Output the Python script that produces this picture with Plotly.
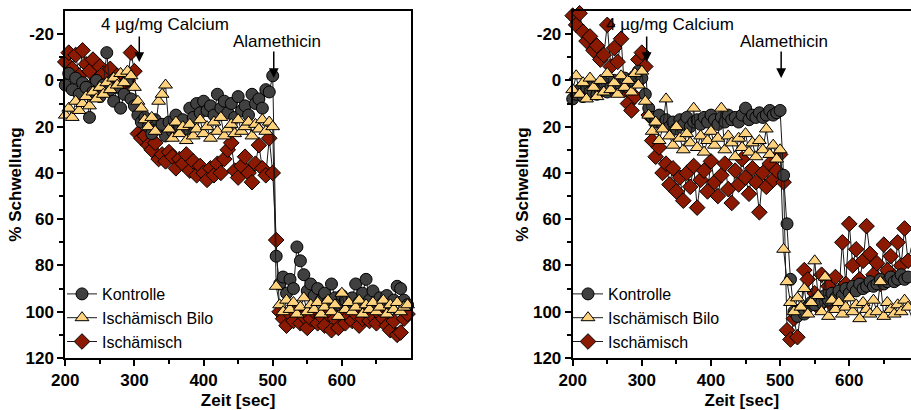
import plotly.graph_objects as go

# Measurement times (seconds), shared by both panels
time_s = [200 + 5 * i for i in range(100)]

# Panel A: swelling (%) per group
kontrolle_a = [2, -3, 4, -1, 6, 1, 3, 16, 5, 0, 7, 2, -12, 4, 9, 3, 12, 6, 0, 8, 11,
               15,
               18, 16, 20, 23, 17, 21, 19, 24, 18, 22,
               15, 20, 17, 21, 12, 16, 10, 14, 9, 13,
               11, 15, 6, 12, 9, 14, 10, 16, 7, 13,
               11, 15, 6, 10, 8, 12, 4, 5, -2,
               76,
               88, 85, 92, 86, 90, 72, 78, 84, 91, 88,
               93, 90, 95, 92, 96, 88, 94, 97, 93, 95,
               98, 94, 88, 96, 92, 86, 95, 91, 97, 94,
               96, 93, 98, 95, 89, 90, 95, 97]
bilo_a = [15, 12, 16, 9, 13, 10, 7, 11, 5, 8, 3, 6, 1, 4, -1, 2, -3, 1, -4, -2, 3,
          9,
          12, 17, 20, 16, 22, 9, 6, 2, 21, 25,
          18, 23, 20, 26, 19, 24, 21, 17, 23, 20,
          25, 18, 22, 16, 24, 21, 19, 23, 17, 22,
          20, 18, 24, 19, 21, 17, 22, 18, 20,
          89,
          97, 100, 95, 99, 96, 101, 98, 94, 100, 97,
          99, 96, 101, 98, 95, 100, 97, 102, 92, 99,
          96, 100, 98, 95, 101, 97, 99, 96, 100, 98,
          95, 101, 97, 99, 96, 100, 98, 97]
isch_a = [-8, -12, -5, -11, -2, -13, -7, -4, -9, 0, -6, -3, 2, -5, 1, -2, 3, -1, 0, -12, -4,
          23,
          25, 24, 28, 30, 27, 34, 32, 35, 31, 33,
          38, 34, 36, 32, 39, 35, 41, 37, 40, 43,
          38, 41, 36, 40, 34, 30, 27, 39, 42, 37,
          33, 40, 44, 36, 28, 38, 41, 25, 40,
          69,
          100, 103, 106, 101, 104, 99, 105, 102, 107, 103,
          100, 105, 102, 106, 101, 108, 103, 107, 100, 105,
          102, 104, 101, 106, 103, 100, 104, 102, 105, 101,
          103, 106, 108, 104, 110, 109, 103, 101]

# Panel B: swelling (%) per group
kontrolle_b = [8, 6, 4, 7, 3, 5, 2, 6, 4, 1, 5, 3, 0, 4, 2, -1, 3, 0, -2, -4, -1,
               6,
               12, 16, 18, 15, 19, 17, 20, 18, 21, 17,
               19, 16, 20, 18, 17, 19, 16, 18, 15, 17,
               19, 16, 18, 15, 17, 16, 18, 15, 12, 17,
               15, 16, 14, 16, 15, 13, 15, 14, 13,
               41,
               62, 86, 100, 102, 99, 101, 98, 96, 97, 94,
               96, 93, 95, 92, 94, 91, 93, 90, 92, 89,
               91, 88, 90, 89, 87, 89, 88, 86, 88, 87,
               85, 87, 86, 84, 86, 85, 83, 85]
bilo_b = [4, -2, 6, 1, 8, -1, 3, 7, 0, 5, -3, 4, 1, 6, -2, 3, 0, 5, -3, 2, -4,
          9,
          15, 22, 18, 26, 21, 8, 24, 28, 20, 25,
          30, 23, 27, 12, 29, 24, 31, 26, 22, 28,
          25, 12, 30, 24, 27, 33, 25, 29, 23, 31,
          27, 33, 26, 30, 21, 32, 28, 34, 30,
          73,
          87, 96, 100, 94, 98, 90, 101, 96, 78, 93,
          100, 85, 102, 95, 99, 96, 101, 98, 94, 100,
          97, 103, 96, 99, 101, 95, 100, 87, 102, 96,
          99, 101, 97, 100, 95, 98, 102, 99]
isch_b = [-28, -24, -29, -21, -17, -19, -13, -15, -9, -11, -24, -6, -14, -8, -18, 4, 10, 13, 7, -9, -12,
          -6,
          15, 26, 33, 29, 40, 36, 45, 38, 48, 42,
          52, 40, 46, 37, 55, 43, 39, 48, 35, 44,
          50, 41, 36, 47, 53, 39, 45, 34, 42, 49,
          38, 44, 57, 40, 46, 36, 43, 39, 32,
          44,
          108, 112, 103, 111, 100, 82, 86, 96, 92, 98,
          84, 93, 89, 97, 85, 92, 70, 88, 62, 80,
          73, 86, 78, 63, 75, 84, 79, 88, 71, 82,
          76, 85, 70, 80, 64, 78, 72, 82]

# Axis ticks
x_ticks = [200, 300, 400, 500, 600]
x_minor = [250, 350, 450, 550, 650]
y_ticks = [-20, 0, 20, 40, 60, 80, 100, 120]
y_minor = [-10, 10, 30, 50, 70, 90, 110]

# Event markers
calcium_t = 307
alamethicin_t = 501.5

FONT = "Liberation Sans, Arial, sans-serif"

groups = [
    # name, symbol, fill colour, size, legend rank
    ("Ischämisch", "diamond", "#8C1A03", 12, 3),
    ("Kontrolle", "circle", "#404040", 12, 1),
    ("Ischämisch Bilo", "triangle-up", "#FFD27D", 12, 2),
]
panels = [
    ("x", "y", "legend", {"Kontrolle": kontrolle_a, "Ischämisch Bilo": bilo_a, "Ischämisch": isch_a}),
    ("x2", "y2", "legend2", {"Kontrolle": kontrolle_b, "Ischämisch Bilo": bilo_b, "Ischämisch": isch_b}),
]

fig = go.Figure()
for xa, ya, leg, series in panels:
    for name, symbol, fill, size, rank in groups:
        fig.add_trace(go.Scatter(
            x=time_s, y=series[name], name=name, mode="lines+markers",
            xaxis=xa, yaxis=ya, legend=leg, legendrank=rank,
            line=dict(color="#1a1a1a", width=1),
            marker=dict(symbol=symbol, size=size, color=fill,
                        line=dict(color="black", width=1)),
            cliponaxis=False,
        ))

tick_font = dict(family=FONT, size=17, color="black", weight="bold")
title_font = dict(family=FONT, size=17, color="black", weight="bold")


def x_axis(domain, rng, anchor):
    return dict(domain=domain, range=rng, anchor=anchor, automargin=False,
                tickmode="array", tickvals=x_ticks, ticktext=[str(v) for v in x_ticks],
                ticks="outside", ticklen=6, tickwidth=2, tickcolor="black",
                minor=dict(tickmode="array", tickvals=x_minor, ticks="outside",
                           ticklen=4, tickwidth=2, tickcolor="black"),
                showline=True, linewidth=2, linecolor="black", mirror=True,
                showgrid=False, zeroline=False, tickfont=tick_font,
                title=dict(text="Zeit [sec]", standoff=8, font=title_font))


def y_axis(domain, anchor, mirror):
    return dict(domain=domain, range=[120, -30], anchor=anchor, automargin=False,
                tickmode="array", tickvals=y_ticks, ticktext=[str(v) for v in y_ticks],
                ticks="outside", ticklen=6, tickwidth=2, tickcolor="black",
                minor=dict(tickmode="array", tickvals=y_minor, ticks="outside",
                           ticklen=4, tickwidth=2, tickcolor="black"),
                showline=True, linewidth=2, linecolor="black", mirror=mirror,
                showgrid=False, zeroline=False, tickfont=tick_font,
                title=dict(text="% Schwellung", standoff=0, font=title_font))


W, H = 911, 410
y_dom = [1 - 358 / H, 1 - 11 / H]
left_px, right_px = 65.3, 411
x_scale = (right_px - left_px) / 500.0
b_left = 572.7
b_end = 200 + (W - b_left) / x_scale

legend_style = dict(font=dict(family=FONT, size=16, color="black"),
                    bgcolor="rgba(0,0,0,0)", yanchor="top", xanchor="left",
                    tracegroupgap=0, itemwidth=30)

ann_font = dict(family=FONT, size=17, color="black")
annotations = []
for xr, yr in (("x", "y"), ("x2", "y2")):
    for t, tip, tail in ((calcium_t, -8, -27), (alamethicin_t, -1, -28)):
        annotations.append(dict(x=t, y=tip, xref=xr, yref=yr, text="", showarrow=True,
                                ax=0, ay=tail, arrowhead=2, arrowsize=1.3, arrowwidth=1.5,
                                arrowcolor="black"))
annotations += [
    dict(x=344, y=-24.2, xref="x", yref="y", text="4 µg/mg Calcium", showarrow=False, font=ann_font),
    dict(x=505.6, y=-16.8, xref="x", yref="y", text="Alamethicin", showarrow=False, font=ann_font),
    dict(x=340.4, y=-24.2, xref="x2", yref="y2", text="4 µg/mg Calcium", showarrow=False, font=ann_font),
    dict(x=506, y=-16.8, xref="x2", yref="y2", text="Alamethicin", showarrow=False, font=ann_font),
]

fig.update_layout(
    width=W, height=H, autosize=False,
    margin=dict(l=0, r=0, t=0, b=0, autoexpand=False),
    paper_bgcolor="white", plot_bgcolor="white",
    showlegend=True,
    xaxis=x_axis([left_px / W, right_px / W], [200, 700], "y"),
    yaxis=y_axis(y_dom, "x", True),
    xaxis2=x_axis([b_left / W, 1.0], [200, b_end], "y2"),
    yaxis2=y_axis(y_dom, "x2", False),
    legend=dict(x=62 / W, y=1 - 277 / H, **legend_style),
    legend2=dict(x=568 / W, y=1 - 277 / H, **legend_style),
    annotations=annotations,
)

fig.write_html("out.html")
